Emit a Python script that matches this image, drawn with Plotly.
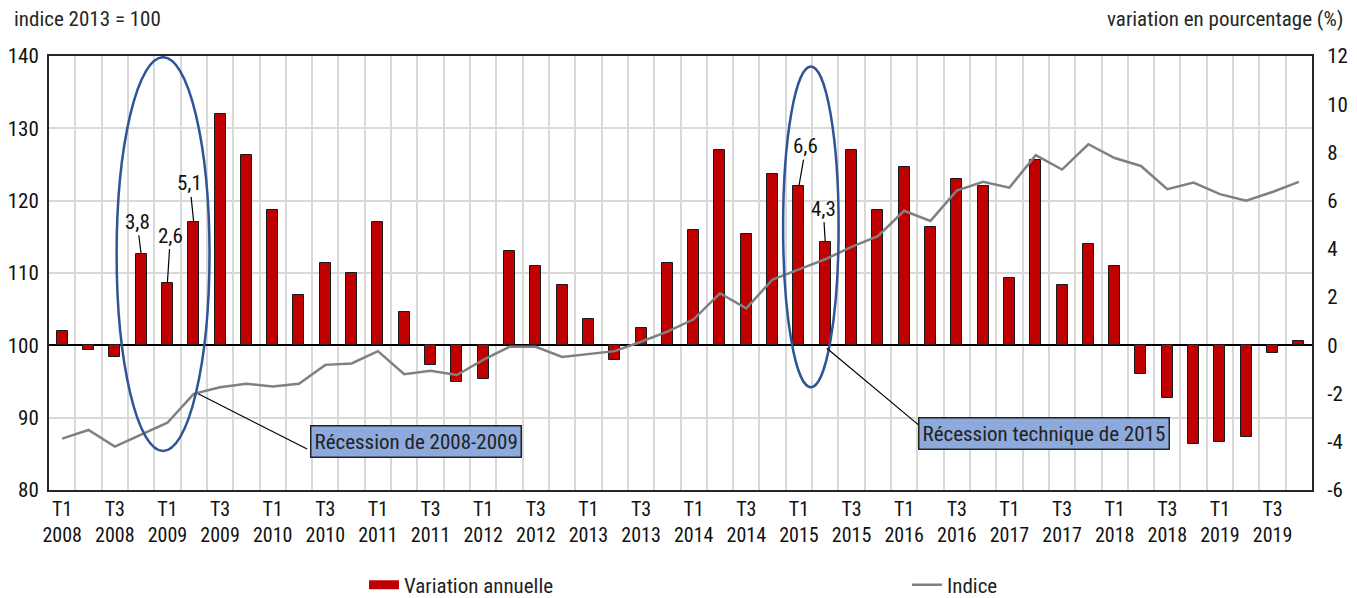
import plotly.graph_objects as go

FONT = "Liberation Sans Narrow, Roboto Condensed, DejaVu Sans Condensed, Arial Narrow, sans-serif"

years = [2008, 2009, 2010, 2011, 2012, 2013, 2014, 2015, 2016, 2017, 2018, 2019]
quarter_names = ["T1", "T2", "T3", "T4"]
quarters = [f"{q} {y}" for y in years for q in quarter_names]

# Variation annuelle (%), right axis
variation = [0.6, -0.2, -0.5, 3.8,
             2.6, 5.1, 9.6, 7.9,
             5.6, 2.1, 3.4, 3.0,
             5.1, 1.4, -0.8, -1.5,
             -1.4, 3.9, 3.3, 2.5,
             1.1, -0.6, 0.7, 3.4,
             4.8, 8.1, 4.6, 7.1,
             6.6, 4.3, 8.1, 5.6,
             7.4, 4.9, 6.9, 6.6,
             2.8, 7.7, 2.5, 4.2,
             3.3, -1.2, -2.2, -4.1,
             -4.0, -3.8, -0.3, 0.2]

# Indice 2013 = 100, left axis
indice = [87.1, 88.3, 86.0, 87.6,
          89.3, 93.3, 94.2, 94.7,
          94.3, 94.7, 97.3, 97.5,
          99.2, 96.0, 96.5, 95.9,
          98.0, 99.8, 99.8, 98.4,
          98.8, 99.2, 100.5, 101.9,
          103.6, 107.2, 105.1, 109.1,
          110.5, 111.9, 113.6, 115.1,
          118.6, 117.2, 121.4, 122.6,
          121.8, 126.3, 124.3, 127.8,
          125.9, 124.8, 121.6, 122.5,
          120.9, 120.0, 121.2, 122.6]

left_ticks = [80, 90, 100, 110, 120, 130, 140]
right_ticks = [-6, -4, -2, 0, 2, 4, 6, 8, 10, 12]
labelled_quarters = ["T4 2008", "T1 2009", "T2 2009", "T1 2015", "T2 2015"]

x = list(range(len(quarters)))
tick_idx = x[::2]
tick_text = [quarters[i].replace(" ", "<br>") for i in tick_idx]

fig = go.Figure()
fig.add_trace(go.Bar(
    x=x, y=variation, yaxis="y", name="Variation annuelle", showlegend=False,
    width=0.42, marker=dict(color="#C00000", line=dict(color="#1a1a1a", width=1)),
))
fig.add_trace(go.Scatter(
    x=[None], y=[None], mode="lines", name="Variation annuelle",
    line=dict(color="#C00000", width=9),
))
fig.add_trace(go.Scatter(
    x=x, y=indice, yaxis="y2", mode="lines", name="Indice",
    line=dict(color="#808080", width=2.5),
))

annotations = []
# value labels
label_offsets = {"T4 2008": (-4, -32), "T1 2009": (3, -47), "T2 2009": (-4, -39),
                 "T1 2015": (7, -40), "T2 2015": (-2, -33)}
for q in labelled_quarters:
    i = quarters.index(q)
    v = variation[i]
    ax, ay = label_offsets[q]
    annotations.append(dict(
        x=i, y=v, xref="x", yref="y", text=f"{v:.1f}".replace(".", ","),
        showarrow=True, arrowhead=0, arrowwidth=1.2, arrowcolor="#000", ax=ax, ay=ay,
        standoff=0, font=dict(family=FONT, size=21, color="#111"),
    ))

# recession boxes
annotations.append(dict(
    x=13.46, y=-4.0, xref="x", yref="y", text="Récession de 2008-2009", showarrow=False,
    bgcolor="#8EA9DB", bordercolor="#222", borderwidth=1.5, borderpad=3,
    font=dict(family=FONT, size=21, color="#222"),
))
annotations.append(dict(
    x=37.33, y=-3.66, xref="x", yref="y", text="Récession technique de 2015", showarrow=False,
    bgcolor="#8EA9DB", bordercolor="#222", borderwidth=1.5, borderpad=3,
    font=dict(family=FONT, size=21, color="#222"),
))
# axis headers
annotations.append(dict(
    x=-0.0293, y=1.0853, xref="paper", yref="paper", xanchor="left", yanchor="middle",
    text="indice 2013 = 100", showarrow=False, font=dict(family=FONT, size=21, color="#262626"),
))
annotations.append(dict(
    x=1.0261, y=1.0853, xref="paper", yref="paper", xanchor="right", yanchor="middle",
    text="variation en pourcentage (%)", showarrow=False, font=dict(family=FONT, size=21, color="#262626"),
))

shapes = [
    dict(type="circle", xref="x", yref="y", x0=2.07, x1=5.6, y0=-4.38, y1=11.95,
         line=dict(color="#2F5597", width=2.5), layer="above"),
    dict(type="circle", xref="x", yref="y", x0=27.4, x1=29.51, y0=-1.74, y1=11.56,
         line=dict(color="#2F5597", width=2.5), layer="above"),
    dict(type="line", xref="x", yref="y", x0=5.17, y0=-2.01, x1=9.31, y1=-4.30,
         line=dict(color="#000", width=1.2), layer="above"),
    dict(type="line", xref="x", yref="y", x0=29.06, y0=-0.12, x1=32.58, y1=-3.33,
         line=dict(color="#000", width=1.2), layer="above"),
]

# The page body has an 8px margin, so the figure is drawn 8px in and 8px down.
fig.update_layout(
    width=1349, height=590,
    margin=dict(l=41, r=45, t=48, b=108, autoexpand=False),
    paper_bgcolor="white", plot_bgcolor="white",
    font=dict(family=FONT, size=21, color="#111"),
    bargap=0,
    xaxis=dict(
        range=[-0.5, 47.5], tickmode="array", tickvals=tick_idx, ticktext=tick_text,
        showgrid=False, zeroline=False, ticks="", automargin=False,
        minor=dict(tick0=0.5, dtick=1, showgrid=True, gridcolor="#D9D9D9", gridwidth=1.5, ticks=""),
        showline=True, mirror=True, linecolor="#262626", linewidth=2,
        tickfont=dict(family=FONT, size=20, color="#111"),
    ),
    yaxis=dict(
        side="right", range=[-6, 12], tickmode="array", tickvals=right_ticks,
        ticktext=[str(v) for v in right_ticks], showgrid=False, automargin=False,
        zeroline=True, zerolinecolor="#000", zerolinewidth=1.5,
        showline=True, linecolor="#262626", linewidth=2, ticks="", ticklabelstandoff=9,
        tickfont=dict(family=FONT, size=21, color="#111"),
    ),
    yaxis2=dict(
        overlaying="y", side="left", anchor="x", range=[80, 140], tickmode="array",
        tickvals=left_ticks, ticktext=[str(v) for v in left_ticks], automargin=False,
        showgrid=True, gridcolor="#D9D9D9", gridwidth=1.5, zeroline=False,
        showline=True, linecolor="#262626", linewidth=2, ticks="", ticklabelstandoff=4,
        tickfont=dict(family=FONT, size=21, color="#111"),
    ),
    legend=dict(
        orientation="h", x=0.2494, y=-0.219, xanchor="left", yanchor="middle",
        entrywidth=498, entrywidthmode="pixels", font=dict(family=FONT, size=21, color="#222"),
        bgcolor="rgba(0,0,0,0)", itemwidth=30,
    ),
    annotations=annotations,
    shapes=shapes,
)

fig.write_html("out.html")
